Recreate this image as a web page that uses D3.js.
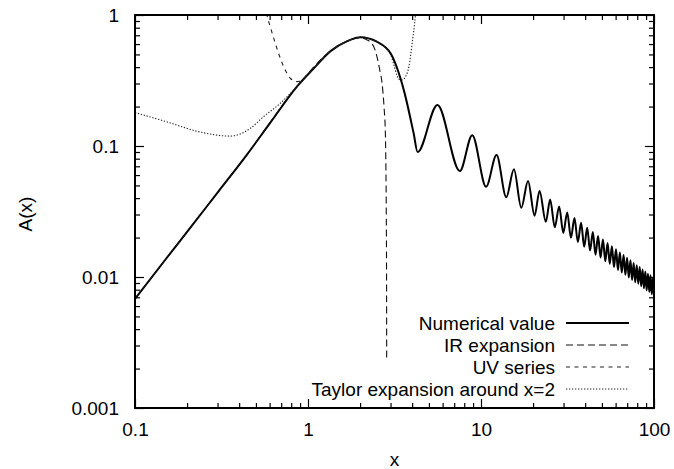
<!DOCTYPE html>
<html>
<head>
<meta charset="utf-8">
<script src="https://cdn.jsdelivr.net/npm/d3@7"></script>
<style>
  body { margin: 0; background: #fff; }
  svg { font-family: "Liberation Sans", Arial, sans-serif; }
</style>
</head>
<body>
<div id="chart-area"></div>
<script>
// tick values / labels
var xMajor = [0.1, 1, 10, 100];
var xTickLabels = ["0.1", "1", "10", "100"];
var yMajor = [0.001, 0.01, 0.1, 1];
var yTickLabels = ["0.001", "0.01", "0.1", "1"];

// numerical value
var numX = [0.1, 0.15, 0.2, 0.3, 0.444, 0.6, 0.863, 1.077, 1.35, 1.7, 2.01, 2.5, 3.0, 3.58, 4.08, 4.3,
  5.6, 7.55, 8.9, 10.7, 12.3, 14.0, 15.5, 17.1, 18.7, 20.4, 21.8, 23.7, 25.1,
  26.7, 28.3, 29.9, 31.5, 33.1, 34.7, 36.3, 37.9, 39.5, 41.1, 42.7, 44.3, 45.9, 47.5,
  49.1, 50.7, 52.3, 53.9, 55.5, 57.1, 58.7, 60.3, 61.9, 63.5, 65.1, 66.7, 68.3, 69.9,
  71.5, 73.1, 74.7, 76.3, 77.9, 79.5, 81.1, 82.7, 84.3, 85.9, 87.5, 89.1, 90.7, 92.3,
  93.9, 95.5, 97.1, 98.7, 100];
var numY = [0.0068, 0.0136, 0.0221, 0.0441, 0.086, 0.148, 0.284, 0.39, 0.53, 0.635, 0.676, 0.625, 0.51, 0.267, 0.125, 0.09,
  0.206, 0.0644, 0.121, 0.0489, 0.0854, 0.0406, 0.0664, 0.0338, 0.054, 0.0294, 0.0453, 0.0264, 0.039,
  0.0240, 0.0346, 0.0217, 0.0311, 0.0199, 0.0282, 0.0185, 0.0259, 0.0170, 0.0238, 0.0159, 0.0221, 0.0148, 0.0206,
  0.0141, 0.0193, 0.0132, 0.0182, 0.0126, 0.0172, 0.0119, 0.0163, 0.0113, 0.0154, 0.0108, 0.0147, 0.0104, 0.0140,
  0.0099, 0.0134, 0.0095, 0.0128, 0.0091, 0.0123, 0.0089, 0.0119, 0.0085, 0.0114, 0.0082, 0.0110, 0.0079, 0.0106,
  0.0077, 0.0103, 0.0074, 0.0099, 0.0073];

// IR expansion
var irX = [0.1, 0.2, 0.444, 0.863, 1.35, 1.7, 2.0, 2.2, 2.4, 2.6, 2.68, 2.75, 2.8, 2.82, 2.835, 2.845, 2.85];
var irY = [0.0068, 0.0221, 0.086, 0.284, 0.53, 0.635, 0.67, 0.645, 0.573, 0.38, 0.301, 0.2, 0.126, 0.07, 0.03, 0.01, 0.0024];

// UV series
var uvX = [0.565, 0.579, 0.605, 0.647, 0.692, 0.739, 0.79, 0.863, 0.923, 0.987, 1.077, 1.35, 1.7, 2.01, 2.5];
var uvY = [1.2, 1.0, 0.815, 0.608, 0.467, 0.38, 0.329, 0.31, 0.319, 0.348, 0.39, 0.53, 0.635, 0.676, 0.625];

// Taylor expansion around x=2
var tayX = [0.1, 0.1526, 0.237, 0.355, 0.463, 0.552, 0.692, 0.863, 1.077, 1.35, 1.7, 2.01, 2.5, 3.0, 3.13, 3.27, 3.42, 3.55, 3.66, 3.83, 4.0, 4.18, 4.25];
var tayY = [0.18, 0.153, 0.128, 0.119, 0.136, 0.167, 0.212, 0.285, 0.39, 0.53, 0.635, 0.676, 0.625, 0.50, 0.42, 0.345, 0.319, 0.322, 0.338, 0.403, 0.608, 1.0, 1.3];

var legendNames = ["Numerical value", "IR expansion", "UV series", "Taylor expansion around x=2"];

var width = 674, height = 469;
var box = { left: 135, right: 654, top: 15, bottom: 408 };

var svg = d3.select("#chart-area").append("svg")
  .attr("width", width)
  .attr("height", height);

var x = d3.scaleLog().domain([0.1, 100]).range([box.left, box.right]);
var y = d3.scaleLog().domain([0.001, 1]).range([box.bottom, box.top]);

function minors(lo, hi) {
  var out = [];
  for (var p = lo; p < hi; p *= 10)
    for (var k = 2; k <= 9; k++) out.push(p * k);
  return out;
}
var xMinor = minors(0.1, 100);
var yMinor = minors(0.001, 1);

var plotW = box.right - box.left, plotH = box.bottom - box.top;

// axes: labelled bottom/left, mirrored ticks top/right
function styleAxis(g) {
  g.select(".domain").remove();
  g.selectAll(".tick line").attr("stroke", "#000").attr("stroke-width", 1.2);
  g.selectAll(".tick text").attr("fill", "#000").style("font-size", "19px")
    .style("font-family", "'Liberation Sans', Arial, sans-serif");
}

svg.append("g").attr("transform", "translate(0," + box.bottom + ")")
  .call(d3.axisBottom(x).tickValues(xMajor).tickFormat((d, i) => xTickLabels[i])
    .tickSizeInner(-9).tickSizeOuter(0).tickPadding(15)).call(styleAxis);
svg.append("g").attr("transform", "translate(0," + box.bottom + ")")
  .call(d3.axisBottom(x).tickValues(xMinor).tickFormat("").tickSizeInner(-5).tickSizeOuter(0)).call(styleAxis);
svg.append("g").attr("transform", "translate(0," + box.top + ")")
  .call(d3.axisTop(x).tickValues(xMajor).tickFormat("").tickSizeInner(-9).tickSizeOuter(0)).call(styleAxis);
svg.append("g").attr("transform", "translate(0," + box.top + ")")
  .call(d3.axisTop(x).tickValues(xMinor).tickFormat("").tickSizeInner(-5).tickSizeOuter(0)).call(styleAxis);

svg.append("g").attr("transform", "translate(" + box.left + ",0)")
  .call(d3.axisLeft(y).tickValues(yMajor).tickFormat((d, i) => yTickLabels[i])
    .tickSizeInner(-9).tickSizeOuter(0).tickPadding(16)).call(styleAxis);
svg.append("g").attr("transform", "translate(" + box.left + ",0)")
  .call(d3.axisLeft(y).tickValues(yMinor).tickFormat("").tickSizeInner(-5).tickSizeOuter(0)).call(styleAxis);
svg.append("g").attr("transform", "translate(" + box.right + ",0)")
  .call(d3.axisRight(y).tickValues(yMajor).tickFormat("").tickSizeInner(-9).tickSizeOuter(0)).call(styleAxis);
svg.append("g").attr("transform", "translate(" + box.right + ",0)")
  .call(d3.axisRight(y).tickValues(yMinor).tickFormat("").tickSizeInner(-5).tickSizeOuter(0)).call(styleAxis);

svg.append("clipPath").attr("id", "clip")
  .append("rect").attr("x", box.left).attr("y", box.top).attr("width", plotW).attr("height", plotH);

var line = d3.line()
  .x(d => x(d[0]))
  .y(d => y(d[1]))
  .curve(d3.curveMonotoneX);

var series = [
  { name: legendNames[0], xs: numX, ys: numY, width: 2, dash: null, color: "#000" },
  { name: legendNames[1], xs: irX, ys: irY, width: 1.1, dash: "7,4", color: "#111" },
  { name: legendNames[2], xs: uvX, ys: uvY, width: 1.1, dash: "4,4.5", color: "#222" },
  { name: legendNames[3], xs: tayX, ys: tayY, width: 1.1, dash: "1.3,1.7", color: "#222" }
];

var plot = svg.append("g").attr("clip-path", "url(#clip)");
plot.selectAll("path.series")
  .data(series)
  .enter().append("path")
  .attr("class", "series")
  .attr("fill", "none")
  .attr("stroke", d => d.color)
  .attr("stroke-width", d => d.width)
  .attr("stroke-dasharray", d => d.dash)
  .attr("d", d => line(d.xs.map((v, i) => [v, d.ys[i]])));

// frame
svg.append("rect")
  .attr("x", box.left).attr("y", box.top)
  .attr("width", plotW).attr("height", plotH)
  .attr("fill", "none").attr("stroke", "#000").attr("stroke-width", 2);

// legend
var leg = svg.append("g").attr("transform", "translate(0,323)");
var rows = leg.selectAll("g").data(series).enter().append("g")
  .attr("transform", (d, i) => "translate(0," + (i * 22) + ")");
rows.append("text")
  .attr("x", 555).attr("dy", "0.35em")
  .attr("text-anchor", "end")
  .style("font-size", "19px")
  .text(d => d.name);
rows.append("line")
  .attr("x1", 566).attr("x2", 629)
  .attr("stroke", d => d.color)
  .attr("stroke-width", d => d.width)
  .attr("stroke-dasharray", d => d.dash);

// axis titles
svg.append("text")
  .attr("x", (box.left + box.right) / 2).attr("y", 466)
  .attr("text-anchor", "middle")
  .style("font-size", "19px")
  .text("x");

svg.append("text")
  .attr("transform", "translate(32,214) rotate(-90)")
  .attr("text-anchor", "middle")
  .style("font-size", "19px")
  .text("A(x)");
</script>
</body>
</html>
